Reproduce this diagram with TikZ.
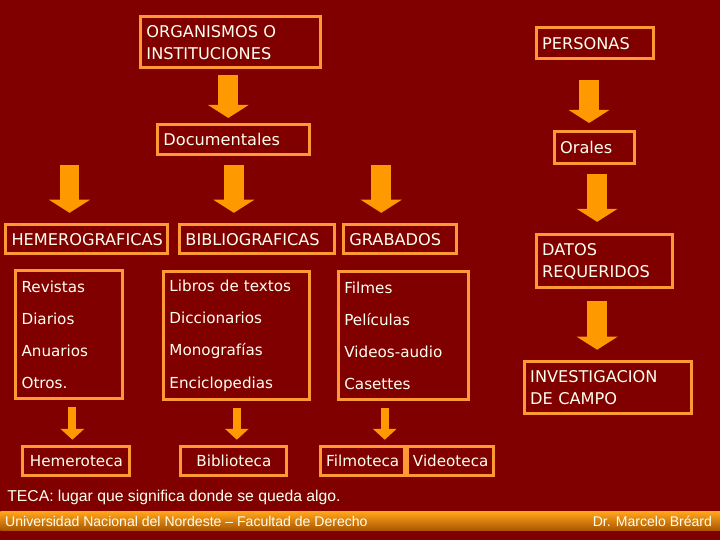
\documentclass[tikz,border=0pt]{standalone}
\usepackage{fontspec}
\setmainfont{DejaVu Sans}
\newfontfamily\footfont{Liberation Sans}
\usepackage{tikz}
\usetikzlibrary{arrows.meta, positioning}
\definecolor{bgMaroon}{HTML}{800000}
\definecolor{borderOrange}{HTML}{FF9933}
\definecolor{arrowOrange}{HTML}{FF9900}
\definecolor{textCream}{HTML}{FFFFF0}
\definecolor{barTop}{HTML}{FFA31A}
\definecolor{barBottom}{HTML}{A85400}

\begin{document}
\begin{tikzpicture}[
    x=0.025cm, y=-0.025cm,
    box/.style={rectangle, draw=borderOrange, line width=2.1pt, text=textCream,
                font=\fontsize{11.5}{15.5}\selectfont, align=left, inner xsep=0.14cm,
                inner ysep=0pt, anchor=north west},
    listbox/.style={box, font=\fontsize{10.8}{22.8}\selectfont},
    tecabox/.style={box, align=center, inner xsep=0.1cm, font=\fontsize{10.8}{13}\selectfont},
    bar/.style={rectangle, inner sep=0pt, top color=barTop, bottom color=barBottom, draw=none},
    note/.style={inner sep=0pt, text=textCream, font=\footfont\fontsize{11.2}{13}\selectfont},
    foot/.style={note, font=\footfont\fontsize{10}{12}\selectfont},
    bigarrow/.style={line width=14.2pt, color=arrowOrange,
                     -{Triangle[width=29.2pt, length=9.3pt, line width=0pt]}},
    smallarrow/.style={line width=5.7pt, color=arrowOrange,
                       -{Triangle[width=17pt, length=7.8pt, line width=0pt]}}
]

\fill[bgMaroon] (0,0) rectangle (720,540);

\node[box, text width=4.22cm, minimum height=1.275cm] (org) at (139.5,15.5) {ORGANISMOS O\\INSTITUCIONES};
\node[box, text width=2.645cm, minimum height=0.775cm] (pers) at (535.5,26.5) {PERSONAS};
\node[box, text width=3.52cm, minimum height=0.75cm] (doc) at (156.5,123.5) {Documentales};
\node[box, text width=1.72cm, minimum height=0.8cm] (orales) at (553.5,130.5) {Orales};
\node[box, text width=3.77cm, minimum height=0.725cm] (hem) at (4.5,223.5) {HEMEROGRAFICAS};
\node[box, text width=3.595cm, minimum height=0.725cm] (bib) at (178.5,223.5) {BIBLIOGRAFICAS};
\node[box, text width=2.545cm, minimum height=0.725cm] (grab) at (342.5,223.5) {GRABADOS};
\node[box, text width=3.12cm, minimum height=1.325cm] (datos) at (535.5,233.5) {DATOS\\REQUERIDOS};
\node[listbox, text width=2.395cm, minimum height=3.2cm] (rev) at (14.5,269.5) {Revistas\\Diarios\\Anuarios\\Otros.};
\node[listbox, text width=3.37cm, minimum height=3.2cm] (lib) at (162.5,270.5) {Libros de textos\\Diccionarios\\Monografías\\Enciclopedias};
\node[listbox, text width=2.97cm, minimum height=3.2cm] (film) at (337.5,270.5) {Filmes\\Películas\\Videos-audio\\Casettes};
\node[box, text width=3.895cm, minimum height=1.3cm] (inv) at (523.5,360.5) {INVESTIGACION\\DE CAMPO};
\node[tecabox, text width=2.475cm, minimum height=0.725cm] (hemt) at (21.5,445.5) {Hemeroteca};
\node[tecabox, text width=2.45cm, minimum height=0.725cm] (bibt) at (179.5,445.5) {Biblioteca};
\node[tecabox, text width=1.9cm, minimum height=0.725cm] (filmt) at (319.5,445.5) {Filmoteca};
\node[tecabox, text width=1.95cm, minimum height=0.725cm, right=0pt of filmt] (videot) {Videoteca};

\node[note, anchor=west] (teca) at (7,498) {TECA: lugar que significa donde se queda algo.};

\node[bar, minimum width=18cm, minimum height=0.475cm, anchor=north west] (pie) at (0,512) {};
\node[foot, right=3.5pt of pie.west] (uni) {Universidad Nacional del Nordeste – Facultad de Derecho};
\node[foot, left=5.7pt of pie.east] (autor) {Dr. Marcelo Bréard};

\draw[bigarrow, shorten <=3.9pt, shorten >=3.9pt] ([xshift=-1.8pt]org.south) -- ([xshift=-1.8pt]org.south |- doc.north);
\draw[bigarrow, shorten <=13.9pt, shorten >=5.3pt] ([xshift=-4.3pt]pers.south) -- ([xshift=-4.3pt]pers.south |- orales.north);
\draw[bigarrow, shorten <=6pt, shorten >=8.2pt] ([xshift=1.8pt]orales.south) -- ([xshift=1.8pt]orales.south |- datos.north);
\draw[bigarrow, shorten <=8.2pt, shorten >=7.5pt] ([xshift=-5.3pt]datos.south) -- ([xshift=-5.3pt]datos.south |- inv.north);
\draw[bigarrow, shorten <=6pt, shorten >=7.5pt] ([xshift=-12.4pt]hem.north |- doc.south) -- ([xshift=-12.4pt]hem.north);
\draw[bigarrow, shorten <=6pt, shorten >=7.5pt] ([xshift=-16.7pt]bib.north |- doc.south) -- ([xshift=-16.7pt]bib.north);
\draw[bigarrow, shorten <=6pt, shorten >=7.5pt] ([xshift=-13.5pt]grab.north |- doc.south) -- ([xshift=-13.5pt]grab.north);
\draw[smallarrow, shorten <=5pt, shorten >=3.9pt] ([xshift=2.1pt]rev.south) -- ([xshift=2.1pt]rev.south |- hemt.north);
\draw[smallarrow, shorten <=5pt, shorten >=3.9pt] (lib.south) -- (lib.south |- bibt.north);
\draw[smallarrow, shorten <=5pt, shorten >=3.9pt] ([xshift=-13.5pt]film.south) -- ([xshift=-13.5pt]film.south |- filmt.north);

\end{tikzpicture}
\end{document}
